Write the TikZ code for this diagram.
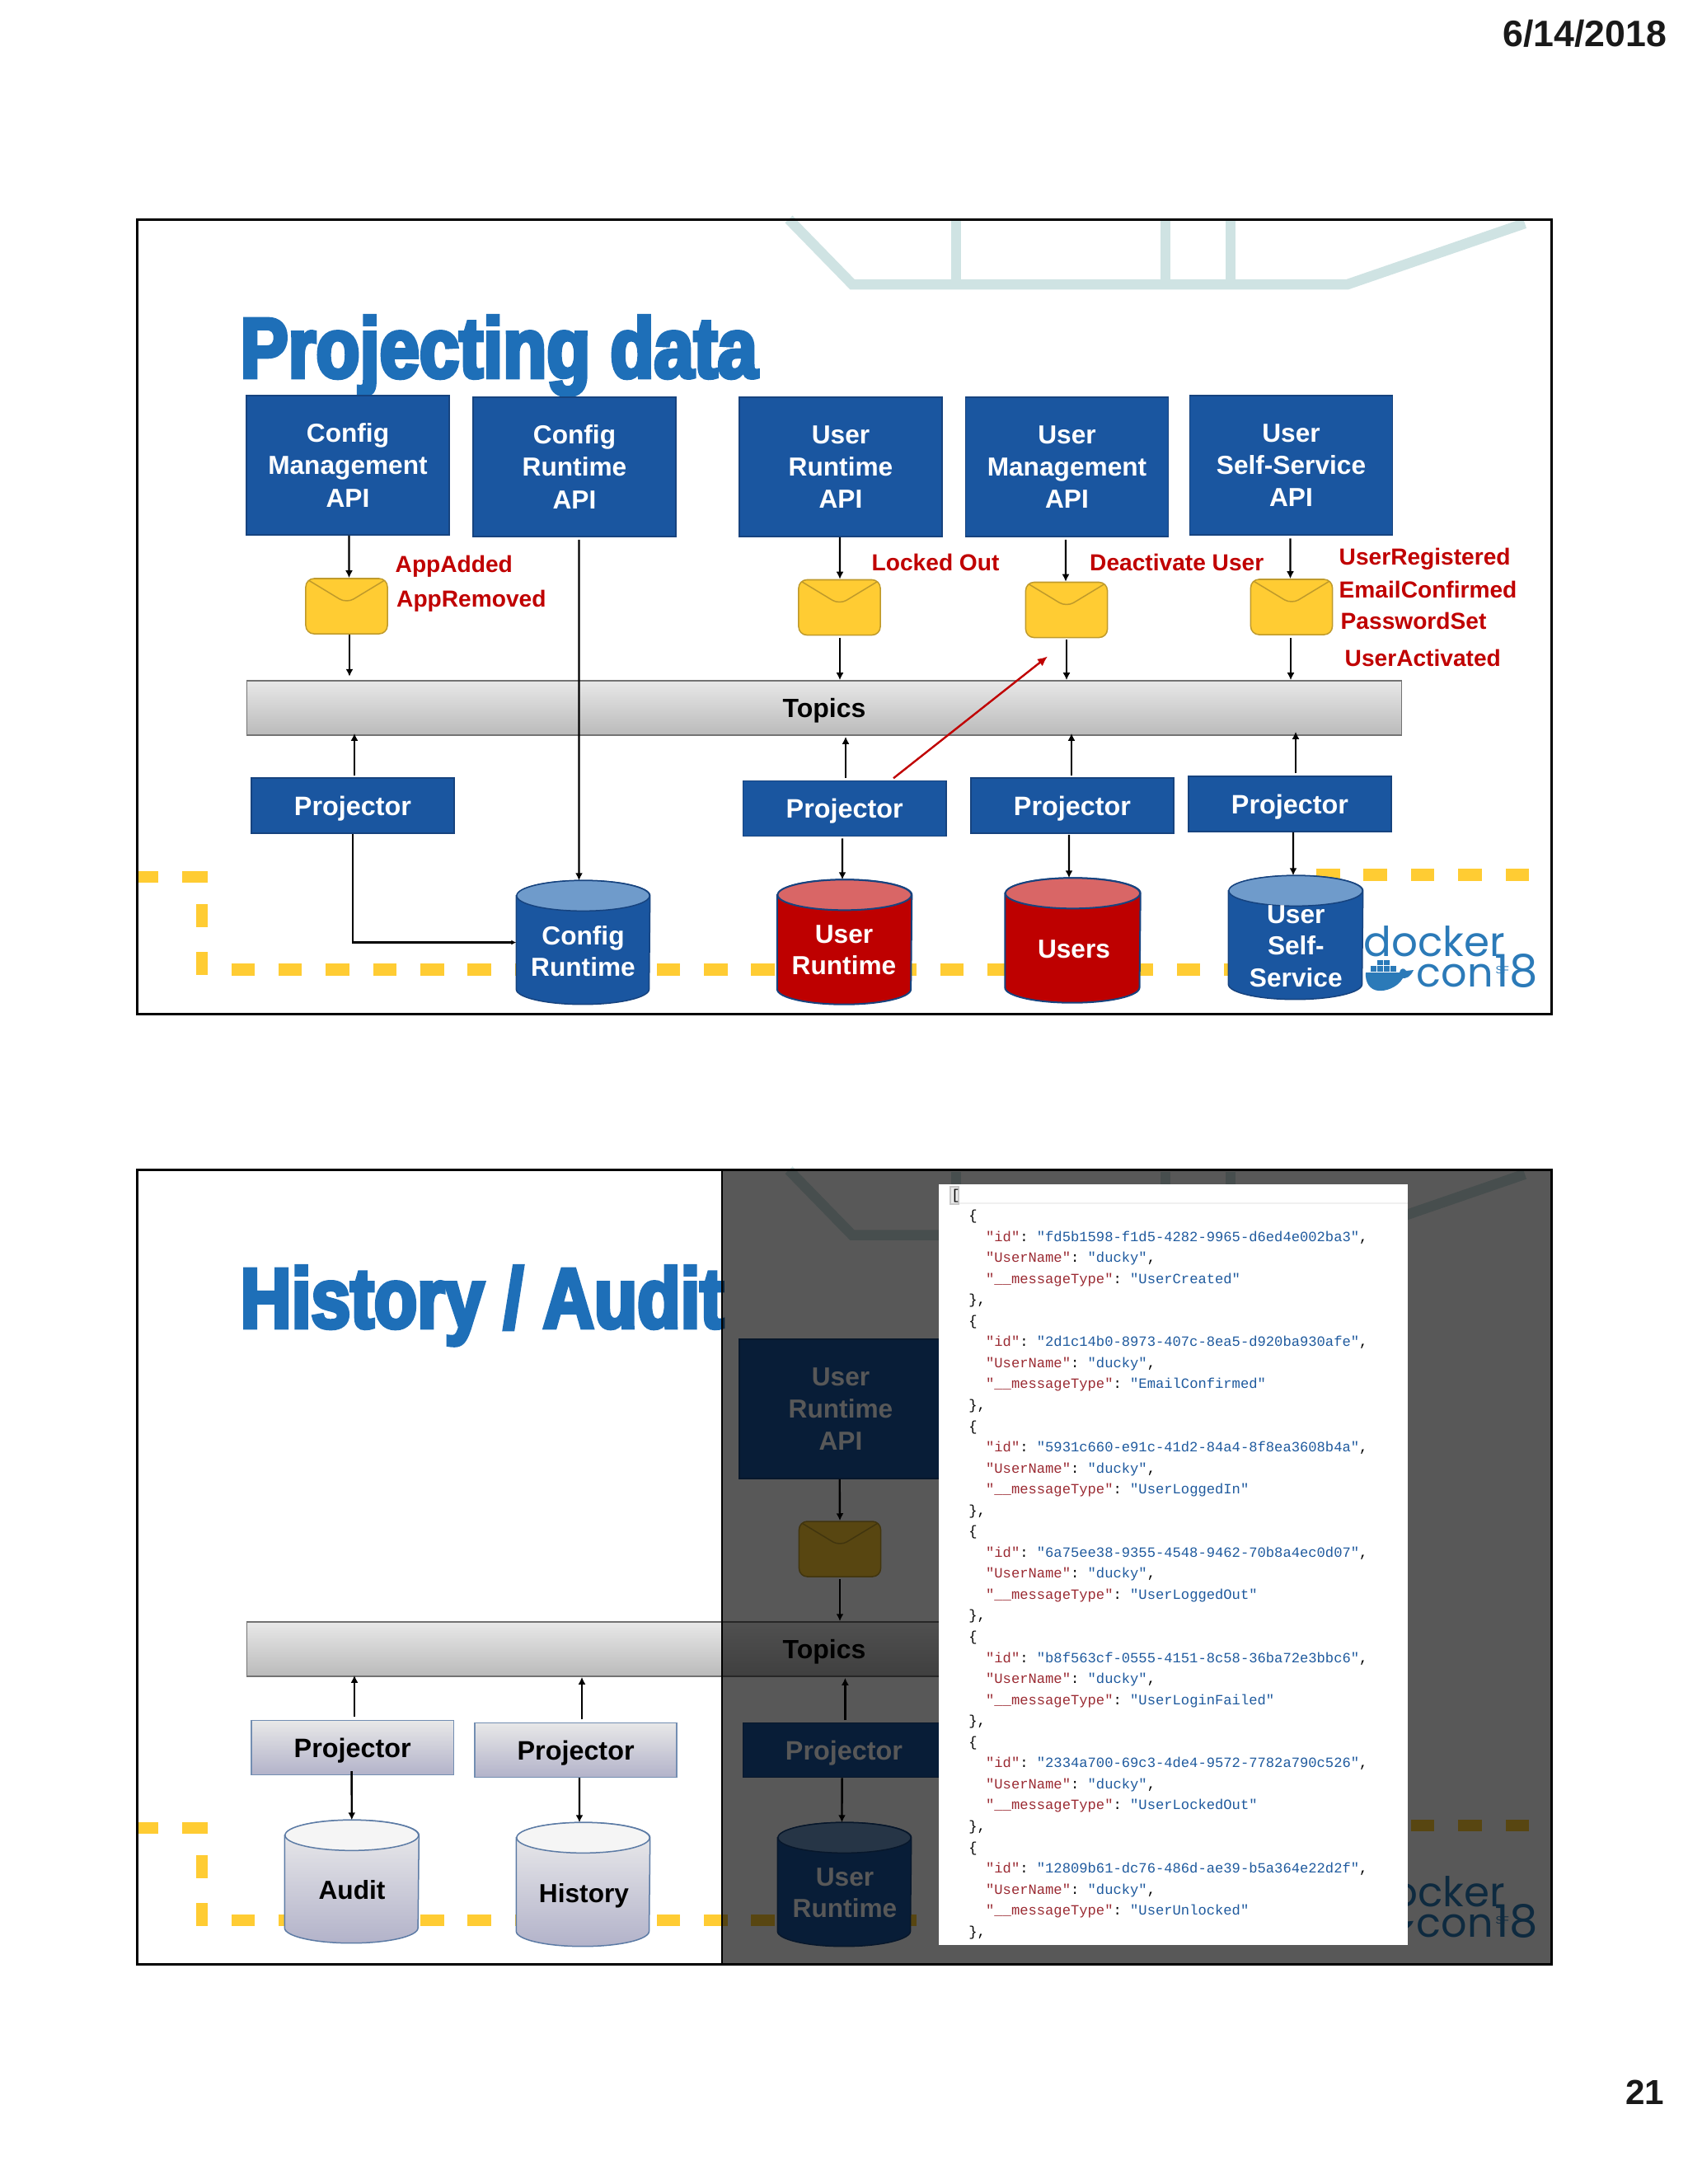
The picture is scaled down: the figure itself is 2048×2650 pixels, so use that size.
\documentclass[tikz,border=0pt]{standalone}
\usepackage{fontspec}
\setmainfont{Liberation Sans}
\setmonofont{Liberation Mono}
\newfontfamily\titlefont[BoldFeatures={FakeStretch=.84,FakeBold=4.5}]{Liberation Sans}
\newfontfamily\titlefontb[BoldFeatures={FakeStretch=.83,FakeBold=4.5}]{Liberation Sans}
\newfontfamily\logofont{Poppins}
\usetikzlibrary{arrows.meta}
\definecolor{boxblue}{HTML}{1A56A0}
\definecolor{boxline}{HTML}{16437F}
\definecolor{lidblue}{HTML}{6F9BCB}
\definecolor{dbred}{HTML}{BE0000}
\definecolor{lidred}{HTML}{D96666}
\definecolor{mailfill}{HTML}{FFCC33}
\definecolor{mailline}{HTML}{BF9A2B}
\definecolor{tealbar}{HTML}{CFE3E3}
\definecolor{titleblue}{HTML}{1E6FB8}
\definecolor{logoblue}{HTML}{2B7AB8}
\definecolor{labelred}{HTML}{C00000}
\definecolor{jsonred}{HTML}{9B2B33}
\definecolor{jsonblue}{HTML}{1F5A9E}
\tikzset{
  apibox/.style={draw=boxline,fill=boxblue,line width=.015cm,text=white,align=center,inner sep=0,
    minimum width=2.46cm,minimum height=1.69cm,font=\fontsize{9}{11.1}\selectfont\bfseries},
  projbox/.style={draw=boxline,fill=boxblue,line width=.015cm,text=white,inner sep=0,text depth=0pt,
    minimum width=2.46cm,minimum height=.67cm,font=\fontsize{9.2}{11}\selectfont\bfseries},
  lightproj/.style={draw=boxline!60,top color=black!9,bottom color=blue!30!black!30,line width=.015cm,inner sep=0,text depth=0pt,
    minimum width=2.45cm,minimum height=.66cm,font=\fontsize{9.2}{11}\selectfont\bfseries},
  topicbar/.style={draw=black!55,top color=black!9,bottom color=black!27,line width=.015cm,inner sep=0,text depth=-.5pt,
    minimum width=14cm,minimum height=.66cm,font=\fontsize{9.1}{11}\selectfont\bfseries},
  mailbox/.style={draw=mailline,fill=mailfill,rounded corners=.1cm,line width=.015cm,inner sep=0,
    minimum width=.99cm,minimum height=.67cm,
    path picture={\draw[mailline,line width=.015cm] (path picture bounding box.north west)
      -- ([yshift=-.3cm]path picture bounding box.north) -- (path picture bounding box.north east);}},
  dbtext/.style={align=center,inner sep=0,font=\fontsize{9}{10.9}\selectfont\bfseries},
  eventlabel/.style={anchor=base west,inner sep=0,text=labelred,font=\fontsize{8}{10}\selectfont\bfseries},
  dashpiece/.style={fill=mailfill},
  flow/.style={->,line width=.024cm},
  jsonline/.style={anchor=base west,inner sep=0,font=\fontsize{4.88}{6}\selectfont\ttfamily},
  slidetitle/.style={anchor=base west,inner sep=0,text=titleblue,font=\titlefont\fontsize{29.4}{30}\selectfont\bfseries},
  framebox/.style={draw=black,line width=.03cm},
  blueline/.style={draw=boxline,line width=.015cm,fill=boxblue},
  bluelid/.style={draw=boxline,line width=.015cm,fill=lidblue},
  redline/.style={draw=boxline,line width=.02cm,fill=dbred},
  redlid/.style={draw=boxline,line width=.02cm,fill=lidred},
  lightline/.style={draw=boxline!70,line width=.015cm,top color=black!7,bottom color=blue!30!black!30},
  lightlid/.style={draw=boxline!70,line width=.015cm,fill=black!4},
}
\newcommand{\jsonkey}[1]{{\color{jsonred}#1}}
\newcommand{\jsonval}[1]{{\color{jsonblue}#1}}
% name, centre x, centre y, width, height, body style, lid style
\newcommand{\dbcyl}[7]{
  \node[inner sep=0,minimum width=#4*.01cm,minimum height=#5*.01cm] (#1) at (#2,#3) {};
  \path[#6] ([yshift=-.185cm]#1.north west) -- ([yshift=.185cm]#1.south west)
    arc[start angle=180,end angle=360,x radius=#4*.005cm,y radius=.185cm]
    -- ([yshift=-.185cm]#1.north east)
    arc[start angle=0,end angle=180,x radius=#4*.005cm,y radius=.185cm] -- cycle;
  \path[#7] ([yshift=-.185cm]#1.north) ellipse[x radius=#4*.005cm,y radius=.185cm];
}
% teal bars, yellow dashes and logo behind each slide
\newcommand{\slideback}[1]{
  \draw[tealbar,line width=.125cm] (957,266) -- (1034,345) -- (1635,345) -- (1850,271);
  \foreach \x in {1160,1414,1493} {\draw[tealbar,line width=.125cm] (\x,268)--(\x,340);}
  \foreach \k in {0,...,21} {\fill[dashpiece] ({280.5+\k*57.35},1169) rectangle +(28.6,14.5);}
  \foreach \k in {0,...,4} {\fill[dashpiece] ({1597+\k*57.4},1054) rectangle +(28.6,14.5);}
  \fill[dashpiece] (168,1057) rectangle (192,1071);
  \fill[dashpiece] (221,1057) rectangle (252,1071);
  \fill[dashpiece] (238,1097) rectangle (252,1125);
  \fill[dashpiece] (238,1155) rectangle (252,1183);
  % logo
  \node[inner sep=0,anchor=base west,text=logoblue,font=\logofont\fontsize{14.2}{15}\selectfont] (#1docker) at (1654,1160) {docker};
  \node[inner sep=0,anchor=base west,text=logoblue,font=\logofont\fontsize{14}{15}\selectfont] (#1con) at (1718,1197) {con};
  \node[inner sep=0,anchor=base west,text=logoblue,font=\logofont\fontsize{15.5}{18}\selectfont] (#1year) at (1813,1197) {18};
  \node[inner sep=0,anchor=base west,text=logoblue,font=\fontsize{3.6}{4}\selectfont] (#1city) at (1814,1181) {SF};
  \fill[logoblue] (1657,1180) -- (1698,1180) .. controls (1699,1174) and (1704,1174) .. (1706,1178)
    -- (1715,1177) .. controls (1711,1186) and (1706,1187) .. (1702,1187)
    .. controls (1695,1199) and (1680,1203) .. (1672,1202) .. controls (1662,1201) and (1656,1192) .. (1657,1180) -- cycle;
  \foreach \x in {1663,1671,1679,1687} {\fill[logoblue] (\x,1172) rectangle +(7,6.5);}
  \foreach \x in {1671,1679} {\fill[logoblue] (\x,1164.5) rectangle +(7,6.5);}
}
\begin{document}
\begin{tikzpicture}[x=.01cm,y=-.01cm,>={Latex[length=.9mm,width=.9mm]}]
  \useasboundingbox (0,0) rectangle (2048,2650);
  % date and page number
  \node[anchor=base east,inner sep=0,text=black!90,font=\fontsize{12.7}{14}\selectfont\bfseries] (pagedate) at (2023,56) {6/14/2018};
  \node[anchor=base east,inner sep=0,text=black!90,font=\fontsize{12}{14}\selectfont\bfseries] (pagenum) at (2020,2553) {21};

  % slide 1
  \slideback{a}
  \node[slidetitle] (title) at (291,458) {Projecting data};

  \node[apibox] (api1) at (422,564.5) {Config\\Management\\API};
  \node[apibox] (api2) at (697,566.5) {Config\\Runtime\\API};
  \node[apibox] (api3) at (1020,566.5) {User\\Runtime\\API};
  \node[apibox] (api4) at (1294.5,566.5) {User\\Management\\API};
  \node[apibox] (api5) at (1566.5,564.5) {User\\Self-Service\\API};

  \node[mailbox] (mail1) at (420.5,735.5) {};
  \node[mailbox] (mail3) at (1018.5,737) {};
  \node[mailbox] (mail4) at (1294,740) {};
  \node[mailbox] (mail5) at (1567,736.5) {};

  \node[eventlabel] (evadd) at (479,694) {AppAdded};
  \node[eventlabel] (evrem) at (480.5,736) {AppRemoved};
  \node[eventlabel] (evlock) at (1057,692) {Locked Out};
  \node[eventlabel] (evdeact) at (1321.5,692) {Deactivate User};
  \node[eventlabel] (evreg) at (1624,685) {UserRegistered};
  \node[eventlabel] (evmail) at (1624,725) {EmailConfirmed};
  \node[eventlabel] (evpass) at (1626,763) {PasswordSet};
  \node[eventlabel] (evact) at (1631,808) {UserActivated};

  \node[topicbar] (topics) at (1000,859) {Topics};

  \node[projbox] (proj1) at (428,977.5) {Projector};
  \node[projbox] (proj3) at (1024.7,981) {Projector};
  \node[projbox] (proj4) at (1301,977.5) {Projector};
  \node[projbox] (proj5) at (1565,975.5) {Projector};

  \dbcyl{cfgdb}{707.5}{1143.5}{161}{149}{blueline}{bluelid}
  \dbcyl{urtdb}{1024.6}{1143}{162}{150}{redline}{redlid}
  \dbcyl{usersdb}{1301.5}{1141}{163}{150}{redline}{redlid}
  \dbcyl{ssdb}{1572}{1137.5}{162}{149}{blueline}{bluelid}
  \node[dbtext,text=white] (cfglabel) at (707.5,1154) {Config\\Runtime};
  \node[dbtext,text=white] (urtlabel) at (1024,1153) {User\\Runtime};
  \node[dbtext,text=white] (userslabel) at (1303,1152) {Users};
  \node[dbtext,text=white] (sslabel) at (1572.3,1148) {User\\Self-\\Service};

  % API to mail to topics
  \draw[flow] ([xshift=.015cm]api1.south) -- ([xshift=.03cm]mail1.north);
  \draw[flow] ([xshift=.035cm]mail1.south) -- ([shift={(.035cm,.044cm)}]mail1.south |- topics.north);
  \draw[flow] ([shift={(.055cm,-.03cm)}]api2.south) -- ([xshift=-.05cm]cfgdb.north);
  \draw[flow] ([xshift=-.01cm]api3.south) -- ([xshift=.005cm]mail3.north);
  \draw[flow] ([shift={(.005cm,-.025cm)}]mail3.south) -- ([xshift=.005cm]mail3.south |- topics.north);
  \draw[flow] ([shift={(-.015cm,-.03cm)}]api4.south) -- ([xshift=-.01cm]mail4.north);
  \draw[flow] ([yshift=-.02cm]mail4.south) -- (mail4.south |- topics.north);
  \draw[flow] ([shift={(-.01cm,-.035cm)}]api5.south) -- ([xshift=-.015cm]mail5.north);
  \draw[flow] ([shift={(-.01cm,-.035cm)}]mail5.south) -- ([xshift=-.01cm]mail5.south |- topics.north);
  % projectors up to topics
  \draw[flow] ([shift={(.02cm,.02cm)}]proj1.north) -- ([shift={(.02cm,.03cm)}]proj1.north |- topics.south);
  \draw[flow] ([shift={(.013cm,.025cm)}]proj3.north) -- ([shift={(.013cm,-.01cm)}]proj3.north |- topics.south);
  \draw[flow] ([shift={(-.01cm,.02cm)}]proj4.north) -- ([shift={(-.01cm,.03cm)}]proj4.north |- topics.south);
  \draw[flow] ([shift={(.07cm,.03cm)}]proj5.north) -- ([shift={(.07cm,.05cm)}]proj5.north |- topics.south);
  \coordinate (redtip) at (1271,796.5);
  \draw[flow,labelred,>={Latex[length=1.2mm,width=1.1mm]}] ([shift={(.593cm,.025cm)}]proj3.north) -- (redtip);
  % projectors down to stores
  \draw[flow,>={Latex[length=.6mm,width=.6mm]}] (proj1.south) |- (cfgdb.west);
  \draw[flow] ([shift={(-.027cm,-.02cm)}]proj3.south) -- ([xshift=-.026cm]urtdb.north);
  \draw[flow] ([shift={(-.04cm,-.01cm)}]proj4.south) -- ([xshift=-.045cm]usersdb.north);
  \draw[flow] ([xshift=.04cm]proj5.south) -- ([xshift=-.03cm]ssdb.north);
  \draw[framebox] (166,266) rectangle (1882,1230);

  % slide 2
  \begin{scope}[yshift=-11.53cm]
    \slideback{b}
  \end{scope}
  \node[slidetitle,font=\titlefontb\fontsize{29.4}{30}\selectfont\bfseries] (titleb) at (291,1611) {History / Audit};

  \node[apibox] (api3b) at (1020,1709.5) {User\\Runtime\\API};
  \node[mailbox] (mail3b) at (1019,1879.5) {};
  \node[topicbar] (topicsb) at (1000,2001) {Topics};

  \node[lightproj] (projA) at (427.7,2120.3) {Projector};
  \node[lightproj] (projB) at (698.6,2123.3) {Projector};
  \node[projbox,minimum width=2.45cm,minimum height=.66cm] (projC) at (1024,2123.5) {Projector};

  \dbcyl{auditdb}{426.8}{2283}{161.6}{148}{lightline}{lightlid}
  \dbcyl{histdb}{707.5}{2286.5}{161}{149}{lightline}{lightlid}
  \dbcyl{urtdbb}{1024.5}{2286.5}{161}{149}{blueline}{bluelid}
  \node[dbtext] (auditlabel) at (427,2293) {Audit};
  \node[dbtext] (histlabel) at (708.5,2300) {History};
  \node[dbtext,text=white] (urtlabelb) at (1025,2297) {User\\Runtime};

  \draw[flow] ([xshift=-.013cm]api3b.south) -- (mail3b.north);
  \draw[flow] ([yshift=-.02cm]mail3b.south) -- (mail3b.south |- topicsb.north);
  \draw[flow] ([shift={(.023cm,.033cm)}]projA.north) -- ([shift={(.023cm,.02cm)}]projA.north |- topicsb.south);
  \draw[flow] ([shift={(.074cm,.033cm)}]projB.north) -- ([xshift=.074cm]projB.north |- topicsb.south);
  \draw[flow] ([shift={(.014cm,.025cm)}]projC.north) -- ([shift={(.014cm,-.01cm)}]projC.north |- topicsb.south);
  \draw[flow] ([shift={(-.011cm,.05cm)}]projA.south) -- (auditdb.north);
  \draw[flow] ([xshift=.044cm]projB.south) -- ([xshift=-.045cm]histdb.north);
  \draw[flow] ([xshift=-.024cm]projC.south) -- ([xshift=-.03cm]urtdbb.north);

  % dimmed part and the message list on top
  \fill[black,opacity=.655] (876,1419) rectangle (1882,2383);
  \draw[black,line width=.012cm] (876,1419) -- (876,2383);
  \fill[white] (1139,1437) rectangle (1708,2360);
  \fill[black!6] (1153,1459) rectangle (1708,1461);
  \draw[black!22,fill=black!8,line width=.012cm] (1153,1440) rectangle (1163,1461);
  \node[jsonline] (openlist) at (1153.7,1455) {[};
  \foreach \uid/\mtype [count=\n from 0] in {
    fd5b1598-f1d5-4282-9965-d6ed4e002ba3/UserCreated,
    2d1c14b0-8973-407c-8ea5-d920ba930afe/EmailConfirmed,
    5931c660-e91c-41d2-84a4-8f8ea3608b4a/UserLoggedIn,
    6a75ee38-9355-4548-9462-70b8a4ec0d07/UserLoggedOut,
    b8f563cf-0555-4151-8c58-36ba72e3bbc6/UserLoginFailed,
    2334a700-69c3-4de4-9572-7782a790c526/UserLockedOut,
    12809b61-dc76-486d-ae39-b5a364e22d2f/UserUnlocked} {
    \pgfmathsetmacro\ytop{1480.5+\n*127.75}
    \node[jsonline] (open\n) at (1174.7,\ytop) {\{};
    \node[jsonline] (uid\n) at (1195.4,\ytop+25.55) {\jsonkey{"id"}: \jsonval{"\uid"},};
    \node[jsonline] (name\n) at (1195.4,\ytop+51.1) {\jsonkey{"UserName"}: \jsonval{"ducky"},};
    \node[jsonline] (type\n) at (1195.4,\ytop+76.65) {\jsonkey{"\_\_messageType"}: \jsonval{"\mtype"}};
    \node[jsonline] (close\n) at (1174.7,\ytop+102.2) {\},};
  }
  \draw[framebox] (166,1419) rectangle (1882,2383);
\end{tikzpicture}
\end{document}
